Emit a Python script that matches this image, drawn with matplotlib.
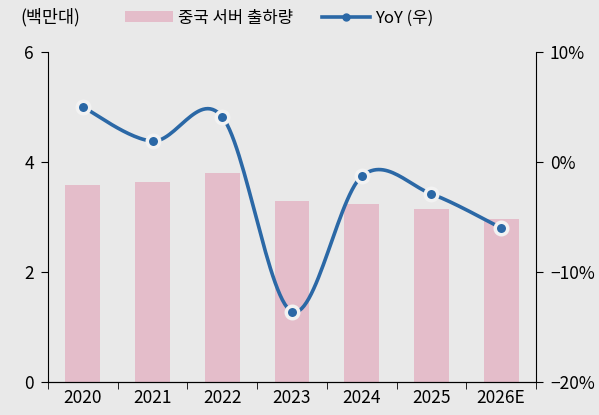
import numpy as np
import matplotlib
matplotlib.use("Agg")
import matplotlib.pyplot as plt
from matplotlib.patches import Patch
from matplotlib.lines import Line2D

plt.rcParams['font.family'] = ['Noto Sans CJK KR', 'DejaVu Sans']
plt.rcParams['axes.unicode_minus'] = False

years = ['2020', '2021', '2022', '2023', '2024', '2025', '2026E']
shipments = [3.58, 3.64, 3.80, 3.29, 3.24, 3.15, 2.96]
yoy = [5.0, 1.9, 4.1, -13.6, -1.3, -2.9, -6.0]

bg = '#e9e9e9'
bar_color = '#e4bdca'
line_color = '#2b68a6'
fs = 12.5


def smooth(xs, ys, n=30):
    # catmull-rom style smoothing, like a spreadsheet "smoothed line"
    xs = np.asarray(xs, float)
    ys = np.asarray(ys, float)
    px = np.concatenate([[xs[0]], xs, [xs[-1]]])
    py = np.concatenate([[ys[0]], ys, [ys[-1]]])
    outx, outy = [], []
    t = np.linspace(0, 1, n)
    for i in range(1, len(px) - 2):
        p0, p1, p2, p3 = [np.array([px[j], py[j]]) for j in (i - 1, i, i + 1, i + 2)]
        c1 = p1 + (p2 - p0) / 6
        c2 = p2 - (p3 - p1) / 6
        pts = ((1 - t)[:, None] ** 3 * p1 + 3 * ((1 - t) ** 2 * t)[:, None] * c1
               + 3 * ((1 - t) * t ** 2)[:, None] * c2 + (t ** 3)[:, None] * p2)
        outx.extend(pts[:, 0])
        outy.extend(pts[:, 1])
    return outx, outy


fig = plt.figure(figsize=(5.99, 4.15), dpi=100, facecolor=bg)
ax = fig.add_axes([48 / 599, 1 - 382 / 415, 488 / 599, 330 / 415])
ax.set_facecolor(bg)
x = np.arange(len(years))
ax.bar(x, shipments, width=0.5, color=bar_color, zorder=1)
ax.set_xlim(-0.5, len(years) - 0.5)
ax.set_ylim(0, 6)
ax.set_yticks([0, 2, 4, 6])
ax.set_xticks(x)
ax.set_xticklabels(years)
ax.set_xticks(np.arange(-0.5, len(years)), minor=True)
ax.tick_params(axis='x', which='major', length=0, labelsize=fs, pad=5)
ax.tick_params(axis='x', which='minor', length=5, direction='out', color='black')
ax.tick_params(axis='y', length=5, labelsize=fs, direction='out', pad=5)
ax.spines['top'].set_visible(False)
ax.spines['right'].set_visible(False)

ax2 = ax.twinx()
ax2.set_ylim(-20, 10)
ax2.set_yticks([-20, -10, 0, 10])
ax2.set_yticklabels(['\u221220%', '\u221210%', '0%', '10%'])
ax2.tick_params(axis='y', length=5, labelsize=fs, direction='out', pad=5)
ax2.spines['top'].set_visible(False)
ax2.spines['left'].set_visible(False)
sx, sy = smooth(x, yoy)
ax2.plot(sx, sy, color=line_color, lw=2.6, solid_capstyle='round', zorder=3)
ax2.plot(x, yoy, 'o', color=line_color, ms=9, mec='#f2f2f2', mew=2.5, zorder=4)

fig.text(20 / 599, 1 - 17 / 415, '(백만대)', fontsize=fs, va='center', ha='left')
handles = [Patch(facecolor=bar_color, edgecolor='none'),
           Line2D([0], [0], color=line_color, lw=2.6, marker='o', ms=5)]
fig.legend(handles, ['중국 서버 출하량', 'YoY (우)'], ncol=2, frameon=False,
           loc='center left', bbox_to_anchor=(110 / 599, 1 - 18 / 415),
           fontsize=12, handlelength=2.9, columnspacing=1.7, handletextpad=0.3)

fig.savefig('out.png', dpi=100, facecolor=bg)
